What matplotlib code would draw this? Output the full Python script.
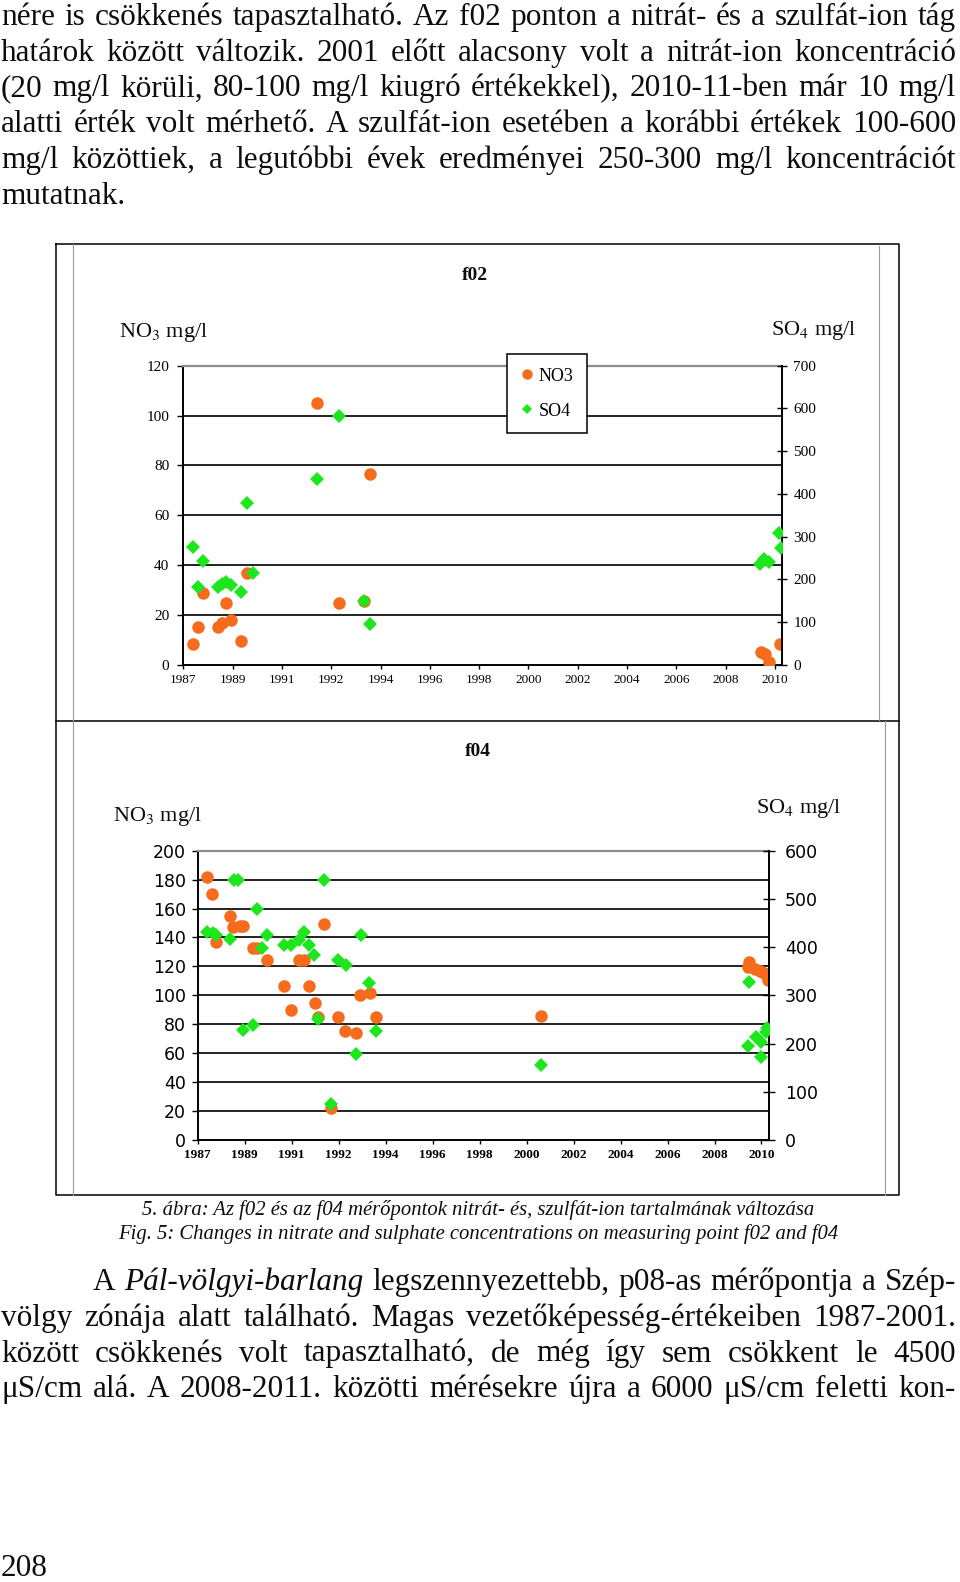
import matplotlib
matplotlib.use('Agg')
import matplotlib.pyplot as plt
from matplotlib.lines import Line2D

W, H = 960, 1582
plt.rcParams['mathtext.fontset'] = 'stix'
SERIF = 'Liberation Serif'
SANS = 'DejaVu Sans'
ORANGE = '#F76B1C'
GREEN = '#1EE61E'

# ---------------- data ----------------
year_labels = ['1987', '1989', '1991', '1992', '1994', '1996', '1998',
               '2000', '2002', '2004', '2006', '2008', '2010']

# sample positions along the (date) x axis, in units of tick intervals from the 1987 tick
f02_no3_t = [0.20, 0.30, 0.39, 0.70, 0.78, 0.87, 0.97, 1.18, 1.29, 2.71, 3.16, 3.67, 3.79,
             11.72, 11.80, 11.89, 12.10]
f02_no3 = [8.4, 15.1, 28.7, 15.1, 17.0, 24.7, 18.0, 9.8, 36.8, 104.9, 24.7, 25.8, 76.6,
           5.3, 4.4, 1.3, 8.3]
f02_so4_t = [0.20, 0.30, 0.39, 0.70, 0.78, 0.87, 0.97, 1.18, 1.29, 1.41, 2.71, 3.16, 3.67, 3.79,
             11.70, 11.77, 11.88, 12.09, 12.12]
f02_so4 = [275, 182, 244, 182, 189, 193, 186, 170, 380, 214, 435, 583, 150, 95,
           236, 247, 242, 308, 273]

f04_no3_t = [0.20, 0.30, 0.40, 0.69, 0.76, 0.89, 0.97, 1.17, 1.26, 1.47, 1.84, 1.99, 2.16, 2.27,
             2.36, 2.49, 2.57, 2.69, 2.83, 2.98, 3.14, 3.36, 3.45, 3.67, 3.79, 7.31,
             11.71, 11.74, 11.86, 11.96, 12.05, 12.13]
f04_no3 = [182, 170, 137, 155, 147.5, 148, 148, 133, 133, 124.4, 106.5, 90, 124.4, 124.4,
           106.5, 94.5, 85.3, 149.3, 21.9, 84.8, 75.4, 73.7, 100.2, 101.9, 84.8, 85.4,
           119.4, 123.3, 118, 117, 115.2, 110.6]
f04_so4_t = [0.20, 0.32, 0.40, 0.69, 0.77, 0.86, 0.96, 1.17, 1.27, 1.37, 1.47, 1.84, 1.99, 2.16,
             2.27, 2.36, 2.47, 2.57, 2.69, 2.83, 2.98, 3.16, 3.36, 3.47, 3.64, 3.79, 7.31,
             11.74, 11.71, 11.88, 12.00, 12.11, 12.09, 11.98]
f04_so4 = [432, 429, 425, 416, 539, 539, 228, 238.5, 479, 399, 424.6, 404, 404, 415,
           430.7, 404, 383.7, 250, 539, 74, 373, 362, 177.7, 424.6, 326, 226, 155.8,
           327, 195, 213, 204, 232, 225, 173]

f02_no3_ticks = [0, 20, 40, 60, 80, 100, 120]
f02_so4_ticks = [0, 100, 200, 300, 400, 500, 600, 700]
f04_no3_ticks = [0, 20, 40, 60, 80, 100, 120, 140, 160, 180, 200]
f04_so4_ticks = [0, 100, 200, 300, 400, 500, 600]

top_lines = [
    "nére is csökkenés tapasztalható. Az f02 ponton a nitrát- és a szulfát-ion tág",
    "határok között változik. 2001 előtt alacsony volt a nitrát-ion koncentráció",
    "(20 mg/l körüli, 80-100 mg/l kiugró értékekkel), 2010-11-ben már 10 mg/l",
    "alatti érték volt mérhető. A szulfát-ion esetében a korábbi értékek 100-600",
    "mg/l közöttiek, a legutóbbi évek eredményei 250-300 mg/l koncentrációt",
    "mutatnak.",
]
bottom_lines = [
    "A |Pál-völgyi-barlang| legszennyezettebb, p08-as mérőpontja a Szép-",
    "völgy zónája alatt található. Magas vezetőképesség-értékeiben 1987-2001.",
    "között csökkenés volt tapasztalható, de még így sem csökkent le 4500",
    "μS/cm alá. A 2008-2011. közötti mérésekre újra a 6000 μS/cm feletti kon-",
]
caption_lines = [
    "5. ábra: Az f02 és az f04 mérőpontok nitrát- és, szulfát-ion tartalmának változása",
    "Fig. 5: Changes in nitrate and sulphate concentrations on measuring point f02 and f04",
]
page_number = "208"

# ---------------- page ----------------
fig = plt.figure(figsize=(W / 100, H / 100), dpi=100)
fig.patch.set_facecolor('white')
page = fig.add_axes([0, 0, 1, 1])
page.set_xlim(0, W)
page.set_ylim(H, 0)
page.axis('off')
renderer = fig.canvas.get_renderer()
TXT = '#0d0d0d'


def measure(s, **kw):
    t = page.text(0, 0, s, **kw)
    w = t.get_window_extent(renderer).width
    t.remove()
    return w


def split_words(line):
    words = []
    italic = False
    for w in line.split(' '):
        st = 'normal'
        if w.startswith('|'):
            italic = True
            w = w[1:]
        if italic:
            st = 'italic'
        if w.endswith('|'):
            w = w[:-1]
            italic = False
        words.append((w, st))
    return words


MIN_GAP = 0.2
BODY = 22.5


def line_need(words, size):
    ws = [measure(w, fontsize=size, family=SERIF, style=st) for w, st in words]
    return sum(ws) + (len(words) - 1) * MIN_GAP * size * 100 / 72, ws


def put_line(line, y, x0, x1, size, justify=True):
    words = split_words(line)
    need, ws = line_need(words, size)
    if justify and need > x1 - x0:
        size = size * (x1 - x0) / need
        need, ws = line_need(words, size)
    if justify and len(words) > 1:
        gap = (x1 - x0 - sum(ws)) / (len(words) - 1)
    else:
        gap = measure('a a', fontsize=size, family=SERIF) - measure('aa', fontsize=size, family=SERIF)
    x = x0
    for (w, st), wd in zip(words, ws):
        page.text(x, y, w, fontsize=size, family=SERIF, style=st, ha='left', va='baseline',
                  color=TXT)
        x += wd + gap


top_base = [25, 60.7, 96.4, 132.1, 167.8, 203.5]
for i, ln in enumerate(top_lines):
    put_line(ln, top_base[i], 1, 956, BODY, justify=(i < len(top_lines) - 1))

bot_base = [1290, 1325.7, 1361.5, 1397]
for i, ln in enumerate(bottom_lines):
    put_line(ln, bot_base[i], 93 if i == 0 else 1, 956, BODY)

page.text(1, 1576, page_number, fontsize=BODY, family=SERIF, ha='left', va='baseline',
          color=TXT)

cap_size = 10 * 721 / measure(caption_lines[1], fontsize=10, family=SERIF, style='italic')
page.text(478, 1215, caption_lines[0], fontsize=cap_size, family=SERIF, style='italic',
          ha='center', va='baseline', color=TXT)
page.text(478, 1238.5, caption_lines[1], fontsize=cap_size, family=SERIF, style='italic',
          ha='center', va='baseline', color=TXT)

# frames around the figure
page.plot([56, 899, 899, 56, 56], [244, 244, 1195, 1195, 244], color='black', lw=1.1)
page.plot([56, 899], [720.5, 720.5], color='black', lw=1.1)
page.plot([73, 73], [244, 1195], color='#9a9a9a', lw=0.8)
page.plot([879, 879], [246, 720], color='#9a9a9a', lw=0.8)
page.plot([885, 885], [721, 1195], color='#9a9a9a', lw=0.8)


def box(l, t, r, b):
    return [l / W, 1 - b / H, (r - l) / W, (b - t) / H]


def make_chart(rect, xmax, no3_t, no3, so4_t, so4, lt, rt, ylab_kw, xlab_kw, lpad, rpad, rlen):
    ax = fig.add_axes(rect)
    ax.set_xlim(0, xmax)
    ax.set_ylim(lt[0], lt[-1])
    ax.set_yticks(lt)
    ax.set_xticks(range(len(year_labels)))
    ax.set_xticklabels(year_labels, **xlab_kw)
    ax.set_yticklabels([str(v) for v in lt], **ylab_kw)
    for v in lt[1:-1]:
        ax.axhline(v, color='#111111', lw=1.3, zorder=0.5)
    for s in ['left', 'bottom']:
        ax.spines[s].set_color('black')
        ax.spines[s].set_linewidth(1.4)
    ax.spines['top'].set_color('#8c8c8c')
    ax.spines['top'].set_linewidth(1.6)
    ax.spines['right'].set_visible(False)
    ax.tick_params(axis='y', direction='out', length=4, width=1, pad=lpad, colors='black')
    ax.tick_params(axis='x', direction='out', length=3, width=1, pad=3.5, colors='black')
    ax.plot(no3_t, no3, 'o', ls='none', color=ORANGE, ms=9, mew=0, zorder=3)
    ax2 = ax.twinx()
    ax2.set_ylim(rt[0], rt[-1])
    ax2.set_yticks(rt)
    ax2.set_yticklabels([str(v) for v in rt], **ylab_kw)
    for s in ['left', 'bottom', 'top']:
        ax2.spines[s].set_visible(False)
    ax2.spines['right'].set_linewidth(1.4)
    ax2.tick_params(axis='y', direction='inout', length=rlen, width=1, pad=rpad, colors='black')
    ax2.plot(so4_t, so4, 'D', ls='none', color=GREEN, ms=7.3, mew=0, zorder=3)
    return ax, ax2


# ---- f02 ----
make_chart(box(183.3, 365.7, 782.3, 665), 12.15, f02_no3_t, f02_no3, f02_so4_t, f02_so4,
           f02_no3_ticks, f02_so4_ticks,
           dict(fontsize=11, family=SERIF), dict(fontsize=9.5, family=SERIF),
           lpad=6, rpad=4.5, rlen=7)
page.text(475, 275, 'f02', fontsize=14, family=SERIF, weight='bold', ha='center', va='center',
          color=TXT)
page.text(119, 333, r'NO$_3$ mg/l', fontsize=16, family=SERIF, ha='left', va='center', color=TXT)
page.text(771, 330, r'SO$_4$ mg/l', fontsize=16, family=SERIF, ha='left', va='center', color=TXT)

handles = [Line2D([], [], marker='o', ls='none', color=ORANGE, ms=7.5, mew=0),
           Line2D([], [], marker='D', ls='none', color=GREEN, ms=5.5, mew=0)]
leg = fig.legend(handles, ['NO3', 'SO4'], loc='upper left',
                 bbox_to_anchor=(507 / W, 1 - 354 / H), bbox_transform=fig.transFigure,
                 prop=dict(family=SERIF, size=13), frameon=True, fancybox=False,
                 edgecolor='black', framealpha=1, labelspacing=1.0, handlelength=0.7,
                 handletextpad=0.3, borderpad=0.75, borderaxespad=0)
leg.get_frame().set_linewidth(1.1)

# ---- f04 ----
make_chart(box(197.7, 850.7, 769, 1140), 12.16, f04_no3_t, f04_no3, f04_so4_t, f04_so4,
           f04_no3_ticks, f04_so4_ticks,
           dict(fontsize=12.5, family=SANS), dict(fontsize=9.5, family=SERIF, weight='bold'),
           lpad=4.5, rpad=7, rlen=9)
page.text(478, 751, 'f04', fontsize=14, family=SERIF, weight='bold', ha='center', va='center',
          color=TXT)
page.text(113, 817, r'NO$_3$ mg/l', fontsize=16, family=SERIF, ha='left', va='center', color=TXT)
page.text(756, 809, r'SO$_4$ mg/l', fontsize=16, family=SERIF, ha='left', va='center', color=TXT)

fig.savefig('out.png', dpi=100, facecolor='white')
